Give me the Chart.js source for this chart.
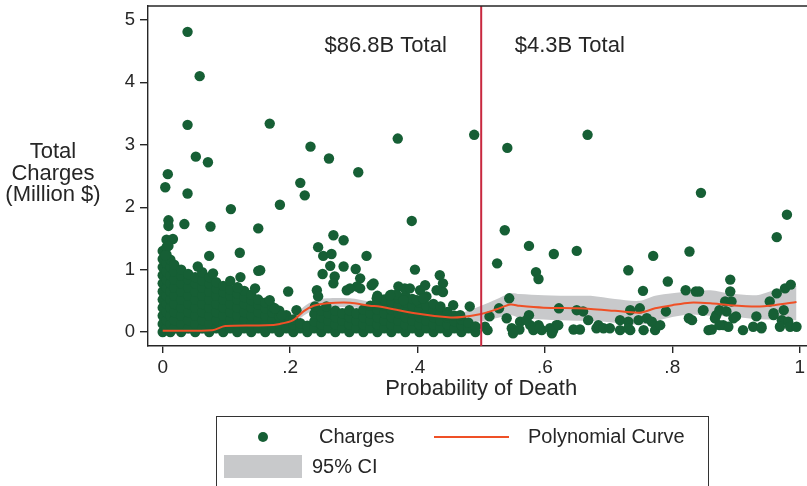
<!DOCTYPE html>
<html>
<head>
<meta charset="utf-8">
<script src="https://cdn.jsdelivr.net/npm/chart.js@4/dist/chart.umd.min.js"></script>
<style>
  html, body { margin: 0; padding: 0; background: #fff; overflow: hidden; }
  #wrap { width: 807px; height: 486px; }
</style>
</head>
<body>
<div id="wrap"><canvas id="chart" width="807" height="486"></canvas></div>
<script>
// ---- data ----
// dense blob near zero: [prob of death, [charges ...]]
var blobColumns = [
    [0.000, [0, .13, .26, .39, .52, .65, .78, .91, 1.04, 1.17, 1.30]],
    [0.006, [.06, .19, .32, .45, .58, .71, .84, .97, 1.10, 1.24, 1.36, 1.48]],
    [0.012, [0, .13, .26, .39, .52, .65, .78, .91, 1.04, 1.16]],
    [0.018, [.06, .19, .32, .45, .58, .71, .84, .97, 1.08]],
    [0.029, [0, .13, .26, .39, .52, .65, .78, .90, 1.00]],
    [0.040, [.06, .19, .32, .45, .58, .71, .84, .93]],
    [0.051, [0, .13, .26, .39, .52, .65, .78, .88]],
    [0.062, [.06, .19, .32, .45, .58, .71, .83, .96]],
    [0.073, [0, .13, .26, .39, .52, .65, .78, .88]],
    [0.084, [.06, .19, .32, .45, .58, .70, .80]],
    [0.095, [0, .13, .26, .39, .52, .64, .74]],
    [0.106, [.06, .19, .32, .45, .58, .68, .82]],
    [0.117, [0, .13, .26, .39, .52, .62, .72]],
    [0.128, [.06, .19, .32, .45, .56, .66]],
    [0.139, [0, .13, .26, .39, .51, .60]],
    [0.150, [.06, .19, .32, .44, .52]],
    [0.161, [0, .13, .26, .38, .47]],
    [0.172, [.06, .19, .31, .40]],
    [0.183, [0, .13, .25, .34]],
    [0.194, [.06, .19, .27]],
    [0.205, [0, .12, .20]],
    [0.216, [.06, .14]],
    [0.227, [0, .10]],
    [0.238, [.06, .17, .29]],
    [0.249, [0, .12, .24, .34]],
    [0.260, [.06, .18, .30]],
    [0.271, [0, .12, .24, .34]],
    [0.282, [.06, .18, .30]],
    [0.293, [0, .12, .24, .35]],
    [0.304, [.06, .18, .30]],
    [0.315, [0, .12, .24, .36]],
    [0.326, [.06, .18, .30, .42]],
    [0.337, [0, .12, .24, .36, .48, .58]],
    [0.348, [.06, .18, .30, .42, .52]],
    [0.359, [0, .12, .24, .36, .48, .60]],
    [0.370, [.06, .18, .30, .42, .54]],
    [0.381, [0, .12, .24, .36, .48, .58]],
    [0.392, [.06, .18, .30, .42, .53]],
    [0.403, [0, .12, .24, .36, .47]],
    [0.414, [.06, .18, .30, .42, .57]],
    [0.425, [0, .12, .24, .36, .45]],
    [0.436, [.06, .18, .30, .41]],
    [0.447, [0, .12, .23, .32]],
    [0.458, [.06, .17, .26]],
    [0.469, [0, .11, .20]],
    [0.480, [.06, .15]],
    [0.491, [0, .09]]
];

// scattered patients: [prob of death, charges]
var scattered = [
    [.039, 4.81], [.058, 4.10], [.039, 3.32], [.052, 2.81], [.071, 2.72], [.008, 2.53], [.004, 2.32],
    [.039, 2.22], [.107, 1.97], [.184, 2.04], [.168, 3.34], [.216, 2.39], [.223, 2.19], [.232, 2.97],
    [.261, 2.78], [.307, 2.56], [.369, 3.10], [.489, 3.16], [.391, 1.78],
    [.034, 1.73], [.075, 1.69], [.009, 1.79], [.009, 1.70], [.016, 1.49], [.150, 1.66], [.073, 1.22],
    [.121, 1.27], [.150, .98], [.122, .88], [.055, 1.05], [.004, 1.23], [.009, 1.38], [.079, .94],
    [.197, .65], [.168, .51], [.187, .27], [.145, .70], [.118, .71], [.153, .99], [.176, .38], [.21, .35],
    [.268, 1.55], [.284, 1.47], [.244, 1.36], [.252, 1.22], [.265, 1.25], [.320, 1.22], [.263, 1.06],
    [.251, .93], [.284, 1.05], [.303, 1.01], [.310, .86], [.328, .75], [.396, 1.0], [.435, .91],
    [.440, .78], [.430, .67], [.440, .64], [.242, .67], [.244, .57], [.270, .89], [.268, .78],
    [.289, .67], [.305, .73], [.370, .73], [.380, .70], [.388, .70], [.367, .60], [.404, .67],
    [.412, .75], [.456, .43], [.482, .41], [.331, .78], [.357, .59], [.378, .51], [.399, .51],
    [.409, .54], [.336, .54], [.446, .27], [.467, .27], [.239, .41], [.257, .41], [.294, .70], [.31, .70],
    [.541, 2.95], [.537, 1.63], [.525, 1.10], [.575, 1.38], [.586, .96], [.590, .85], [.614, 1.25],
    [.650, 1.30], [.667, 3.16], [.845, 2.23], [.980, 1.88], [.964, 1.52], [.770, 1.22], [.827, 1.29],
    [.731, .99], [.793, .81], [.754, .66], [.821, .67], [.837, .65], [.891, .84], [.891, .65],
    [.883, .49], [.893, .49], [.842, .65],
    [.544, .54], [.528, .38], [.513, .25], [.506, .085], [.51, .03], [.54, .22], [.548, .06], [.561, .165],
    [.575, .27], [.577, .11], [.59, .11], [.595, .03], [.608, .06], [.618, .11], [.611, -.02], [.622, .38],
    [.65, .35], [.66, .33], [.668, .19], [.681, .06], [.645, .04], [.655, .04], [.56, .04], [.55, -.02],
    [.582, .03], [.571, .19], [.592, .06], [.613, .03], [.621, .11],
    [.684, .11], [.692, .06], [.702, .06], [.718, .19], [.718, .03], [.734, .35], [.749, .38],
    [.731, .165], [.747, .19], [.76, .22], [.768, .165], [.773, .03], [.781, .11], [.734, .03],
    [.755, .03], [.79, .33], [.826, .22], [.831, .19], [.849, .35], [.857, .03], [.731, .06],
    [.848, .34], [.869, .27], [.867, .22], [.874, .35], [.885, .33], [.896, .22], [.88, .11],
    [.888, .085], [.862, .04], [.911, .03], [.932, .25], [.927, .085], [.94, .085], [.953, .49],
    [.964, .62], [.977, .70], [.986, .76], [.959, .27], [.975, .35], [.972, .19], [.982, .165],
    [.969, .085], [.985, .085], [.995, .085], [.90, .25], [.94, .06], [.959, .30], [.874, .11]
];

// polynomial fit and its 95% CI
var curveX = [0, .078, .098, .163, .184, .205, .221, .237, .258, .294, .325, .34, .396, .448, .47, .50,
    .523, .546, .56, .598, .65, .672, .71, .749, .773, .80, .828, .86, .89, .932, .96, .995];
var curveY = [.02, .03, .096, .107, .13, .19, .33, .42, .46, .47, .42, .41, .30, .235, .24, .29,
    .36, .44, .42, .39, .38, .37, .34, .31, .38, .43, .47, .46, .43, .41, .43, .48];
var ciLow = [-.03, -.02, .05, .06, .08, .13, .26, .35, .39, .40, .35, .33, .22, .16, .16, .17,
    .22, .27, .23, .20, .18, .18, .15, .12, .17, .24, .28, .26, .25, .21, .20, .19];
var ciHigh = [.07, .08, .14, .15, .18, .25, .40, .50, .54, .54, .49, .48, .37, .30, .31, .42,
    .52, .62, .61, .59, .58, .58, .53, .50, .58, .62, .65, .67, .62, .59, .67, .74];

var cutoff = 0.5;
var totalLabels = ['$86.8B Total', '$4.3B Total'];
var totalAt = [[.35, 4.59], [.639, 4.59]];

var xTicks = [0, .2, .4, .6, .8, 1];
var xTickLabels = ['0', '.2', '.4', '.6', '.8', '1'];
var yTicks = [0, 1, 2, 3, 4, 5];

// ---- style ----
var font = "'Liberation Sans', Arial, sans-serif";
var green = '#165f35';
var orange = '#ef5026';
var band = '#c8c9cb';
var cutRed = '#c8283f';
var ink = '#262626';

var chargePoints = [];
blobColumns.forEach(function (col) {
    col[1].forEach(function (v) { chargePoints.push({x: col[0], y: v}); });
});
scattered.forEach(function (p) { chargePoints.push({x: p[0], y: p[1]}); });

function pts(ys) {
    return curveX.map(function (x, i) { return {x: x, y: ys[i]}; });
}

// no label padding, the plot region is fixed by hand
function noPadding(s) {
    s.paddingTop = 0; s.paddingBottom = 0; s.paddingLeft = 0; s.paddingRight = 0;
}

var decorations = {
    id: 'decorations',
    afterDatasetsDraw: function (chart) {
        var ctx = chart.ctx, area = chart.chartArea, x = chart.scales.x, y = chart.scales.y;
        ctx.save();
        // cutoff line
        var cx = x.getPixelForValue(cutoff);
        ctx.strokeStyle = cutRed;
        ctx.lineWidth = 2;
        ctx.beginPath();
        ctx.moveTo(cx, area.top);
        ctx.lineTo(cx, area.bottom);
        ctx.stroke();
        // totals
        ctx.fillStyle = ink;
        ctx.font = '22px ' + font;
        ctx.textAlign = 'center';
        ctx.textBaseline = 'middle';
        totalLabels.forEach(function (t, i) {
            ctx.fillText(t, x.getPixelForValue(totalAt[i][0]), y.getPixelForValue(totalAt[i][1]));
        });
        ctx.restore();
    },
    afterDraw: function (chart) {
        var ctx = chart.ctx, area = chart.chartArea;
        ctx.save();
        // top frame
        ctx.strokeStyle = ink;
        ctx.lineWidth = 1.4;
        ctx.beginPath();
        ctx.moveTo(area.left, area.top);
        ctx.lineTo(area.right, area.top);
        ctx.stroke();
        // axis titles
        ctx.fillStyle = ink;
        ctx.font = '22px ' + font;
        ctx.textAlign = 'center';
        ctx.textBaseline = 'middle';
        ['Total', 'Charges', '(Million $)'].forEach(function (t, i) {
            ctx.fillText(t, 53, 152 + i * 21.5);
        });
        ctx.fillText('Probability of Death', chart.scales.x.getPixelForValue(cutoff), 389);
        // legend box
        ctx.lineWidth = 1;
        ctx.strokeStyle = '#333';
        ctx.strokeRect(216.5, 416.5, 492, 80);
        ctx.fillStyle = green;
        ctx.beginPath();
        ctx.arc(263, 437, 5, 0, Math.PI * 2);
        ctx.fill();
        ctx.strokeStyle = orange;
        ctx.lineWidth = 2;
        ctx.beginPath();
        ctx.moveTo(434, 437);
        ctx.lineTo(509, 437);
        ctx.stroke();
        ctx.fillStyle = band;
        ctx.fillRect(224, 455, 78, 23);
        ctx.fillStyle = ink;
        ctx.font = '20px ' + font;
        ctx.textAlign = 'left';
        ctx.fillText('Charges', 319, 437);
        ctx.fillText('Polynomial Curve', 528, 437);
        ctx.fillText('95% CI', 312, 467);
        ctx.restore();
    }
};

new Chart(document.getElementById('chart').getContext('2d'), {
    type: 'scatter',
    data: {
        datasets: [
            {type: 'line', label: 'ciLow', data: pts(ciLow), borderWidth: 0, borderColor: 'transparent',
                pointRadius: 0, fill: false, tension: 0.3, order: 3},
            {type: 'line', label: '95% CI', data: pts(ciHigh), borderWidth: 0, borderColor: 'transparent',
                pointRadius: 0, fill: '-1', backgroundColor: band, tension: 0.3, order: 2},
            {label: 'Charges', data: chargePoints, pointRadius: 5.2, pointBackgroundColor: green,
                pointBorderWidth: 0, pointBorderColor: green, order: 1},
            {type: 'line', label: 'Polynomial Curve', data: pts(curveY), borderColor: orange, borderWidth: 2,
                pointRadius: 0, fill: false, tension: 0.3, order: 0}
        ]
    },
    options: {
        responsive: false,
        animation: false,
        devicePixelRatio: 1,
        layout: {autoPadding: false, padding: {top: 6, left: 0, right: 0, bottom: 0}},
        plugins: {legend: {display: false}, tooltip: {enabled: false}},
        scales: {
            x: {
                type: 'linear', min: -0.0231, max: 1.0115,
                afterFit: function (s) { s.height = 140; noPadding(s); },
                afterBuildTicks: function (s) { s.ticks = xTicks.map(function (v) { return {value: v}; }); },
                grid: {display: true, drawOnChartArea: false, drawTicks: true, tickLength: 7, color: ink, lineWidth: 1.4},
                border: {display: true, color: ink, width: 1.4},
                ticks: {autoSkip: false, maxRotation: 0, padding: 3, color: ink, font: {family: font, size: 19},
                    callback: function (v, i) { return xTickLabels[i]; }}
            },
            y: {
                type: 'linear', min: -0.224, max: 5.224,
                afterFit: function (s) { s.width = 148; noPadding(s); },
                afterBuildTicks: function (s) { s.ticks = yTicks.map(function (v) { return {value: v}; }); },
                grid: {display: true, drawOnChartArea: false, drawTicks: true, tickLength: 8, color: ink, lineWidth: 1.4},
                border: {display: true, color: ink, width: 1.4},
                ticks: {autoSkip: false, padding: 5, color: ink, font: {family: font, size: 18.5},
                    callback: function (v) { return String(v); }}
            }
        }
    },
    plugins: [decorations]
});
</script>
</body>
</html>
